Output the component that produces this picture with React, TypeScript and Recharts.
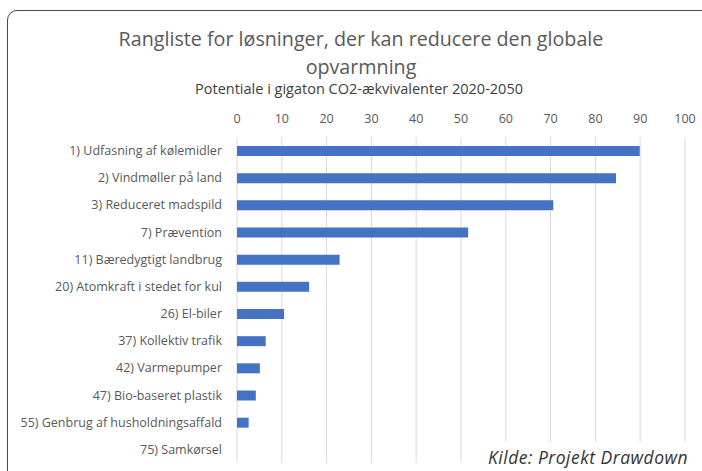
import { BarChart, Bar, XAxis, YAxis, CartesianGrid } from 'recharts'

const solutions = [
  '1) Udfasning af kølemidler',
  '2) Vindmøller på land',
  '3) Reduceret madspild',
  '7) Prævention',
  '11) Bæredygtigt landbrug',
  '20) Atomkraft i stedet for kul',
  '26) El-biler',
  '37) Kollektiv trafik',
  '42) Varmepumper',
  '47) Bio-baseret plastik',
  '55) Genbrug af husholdningsaffald',
  '75) Samkørsel',
]
const potential = [89.9, 84.6, 70.6, 51.6, 22.9, 16.1, 10.5, 6.4, 5.1, 4.2, 2.6, 0]
const xTicks = [0, 10, 20, 30, 40, 50, 60, 70, 80, 90, 100]

const data = solutions.map((name, i) => ({ name, value: potential[i] }))

const gray = '#595959'

export default function App() {
  return (
    <div style={{ position: 'fixed', left: 0, top: 0, width: 702, height: 471, background: '#fff', overflow: 'hidden' }}>
      <div
        style={{
          position: 'absolute',
          left: 7,
          top: 10,
          width: 740,
          height: 500,
          border: '1.5px solid #4a4a4a',
          borderRadius: 10,
        }}
      />
      <div
        style={{
          position: 'absolute',
          left: 0,
          top: 25,
          width: 722,
          textAlign: 'center',
          fontFamily: 'Open Sans',
          fontSize: 19.7,
          lineHeight: '28px',
          color: gray,
        }}
      >
        Rangliste for løsninger, der kan reducere den globale
        <br />
        opvarmning
      </div>
      <div
        style={{
          position: 'absolute',
          left: 0,
          top: 79,
          width: 718,
          textAlign: 'center',
          fontFamily: 'Open Sans',
          fontSize: 14.5,
          color: '#404040',
        }}
      >
        Potentiale i gigaton CO2-ækvivalenter 2020-2050
      </div>
      <div style={{ position: 'absolute', left: 0, top: 0 }}>
        <BarChart
          width={702}
          height={471}
          data={data}
          layout="vertical"
          margin={{ top: 107, right: 17, bottom: 8, left: 0 }}
          barSize={10}
        >
          <CartesianGrid horizontal={false} stroke="#d9d9d9" />
          <XAxis
            type="number"
            orientation="top"
            domain={[0, 100]}
            ticks={xTicks}
            interval={0}
            height={30}
            axisLine={false}
            tickLine={false}
            tickMargin={8}
            tick={{ fill: gray, fontSize: 12.5, fontFamily: 'Open Sans' }}
          />
          <YAxis
            type="category"
            dataKey="name"
            width={237}
            axisLine={false}
            tickLine={false}
            tickMargin={9}
            interval={0}
            tick={{ fill: gray, fontSize: 12.5, fontFamily: 'Open Sans' }}
          />
          <Bar dataKey="value" fill="#4472C4" isAnimationActive={false} />
        </BarChart>
      </div>
      <div
        style={{
          position: 'absolute',
          left: 480,
          top: 442,
          width: 230,
          height: 40,
          background: '#fff',
        }}
      >
        <div
          style={{
            position: 'absolute',
            left: 8,
            top: 3,
            fontFamily: 'Open Sans',
            fontStyle: 'italic',
            fontSize: 17.5,
            letterSpacing: 0.5,
            color: '#333',
            whiteSpace: 'nowrap',
          }}
        >
          Kilde: Projekt Drawdown
        </div>
      </div>
    </div>
  )
}
